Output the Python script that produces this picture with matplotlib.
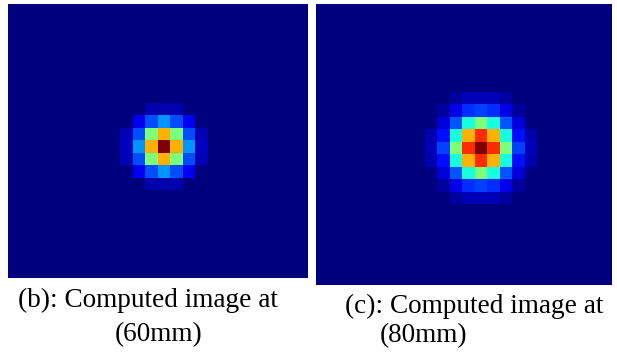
import numpy as np
import matplotlib
matplotlib.use("Agg")
import matplotlib.pyplot as plt

# Intensity patches (centre cell = peak, jet scale 0..1)
patch_60mm = [
    [0.00, 0.00, 0.04, 0.04, 0.04, 0.00, 0.00],
    [0.00, 0.10, 0.20, 0.27, 0.20, 0.10, 0.00],
    [0.05, 0.20, 0.50, 0.72, 0.50, 0.20, 0.05],
    [0.06, 0.27, 0.72, 1.00, 0.72, 0.27, 0.06],
    [0.05, 0.20, 0.50, 0.72, 0.50, 0.20, 0.05],
    [0.00, 0.10, 0.20, 0.27, 0.20, 0.10, 0.00],
    [0.00, 0.00, 0.04, 0.04, 0.04, 0.00, 0.00],
]
patch_80mm = [
    [0.00, 0.00, 0.03, 0.05, 0.05, 0.05, 0.03, 0.00, 0.00],
    [0.00, 0.03, 0.09, 0.17, 0.19, 0.17, 0.09, 0.03, 0.00],
    [0.00, 0.08, 0.21, 0.38, 0.50, 0.38, 0.21, 0.08, 0.00],
    [0.04, 0.14, 0.38, 0.72, 0.86, 0.72, 0.38, 0.14, 0.04],
    [0.05, 0.19, 0.50, 0.86, 1.00, 0.86, 0.50, 0.19, 0.05],
    [0.04, 0.14, 0.38, 0.72, 0.86, 0.72, 0.38, 0.14, 0.04],
    [0.00, 0.08, 0.21, 0.38, 0.50, 0.38, 0.21, 0.08, 0.00],
    [0.00, 0.03, 0.09, 0.17, 0.19, 0.17, 0.09, 0.03, 0.00],
    [0.00, 0.00, 0.03, 0.05, 0.05, 0.05, 0.03, 0.00, 0.00],
]
captions = [
    ["(b): Computed image at", "(60mm)"],
    ["(c): Computed image at", "(80mm)"],
]

W, H = 617, 352


def full_grid(patch, shape, centre):
    # put the patch in a zero background, peak at the given cell
    grid = np.zeros(shape)
    p = np.asarray(patch)
    r0 = centre[0] - p.shape[0] // 2
    c0 = centre[1] - p.shape[1] // 2
    grid[r0:r0 + p.shape[0], c0:c0 + p.shape[1]] = p
    return grid


fig = plt.figure(figsize=(W / 100, H / 100), dpi=100)

# panel boxes in pixels: (left, top, right, bottom) + visible cell window
panels = [
    dict(box=(7, 4, 308, 280), grid=full_grid(patch_60mm, (22, 24), (11, 12)),
         xlim=(-0.58, 23.5), ylim=(21.62, -0.46)),
    dict(box=(316, 4, 612, 285), grid=full_grid(patch_80mm, (23, 24), (11, 13)),
         xlim=(-0.22, 23.46), ylim=(21.94, -0.54)),
]

for p in panels:
    l, t, r, b = p["box"]
    ax = fig.add_axes([l / W, 1 - b / H, (r - l) / W, (b - t) / H])
    ax.imshow(p["grid"], cmap="jet", vmin=0, vmax=1, interpolation="nearest", aspect="auto")
    ax.set_xlim(*p["xlim"])
    ax.set_ylim(*p["ylim"])
    ax.axis("off")

# captions under each image
text_pos = [
    [(18, 307), (115, 341)],
    [(345, 313), (380, 342)],
]
for lines, pos in zip(captions, text_pos):
    for s, (x, y) in zip(lines, pos):
        fig.text(x / W, 1 - y / H, s, family="Liberation Serif", fontsize=19.6,
                 ha="left", va="baseline", color="black")

fig.savefig("out.png", dpi=100)
